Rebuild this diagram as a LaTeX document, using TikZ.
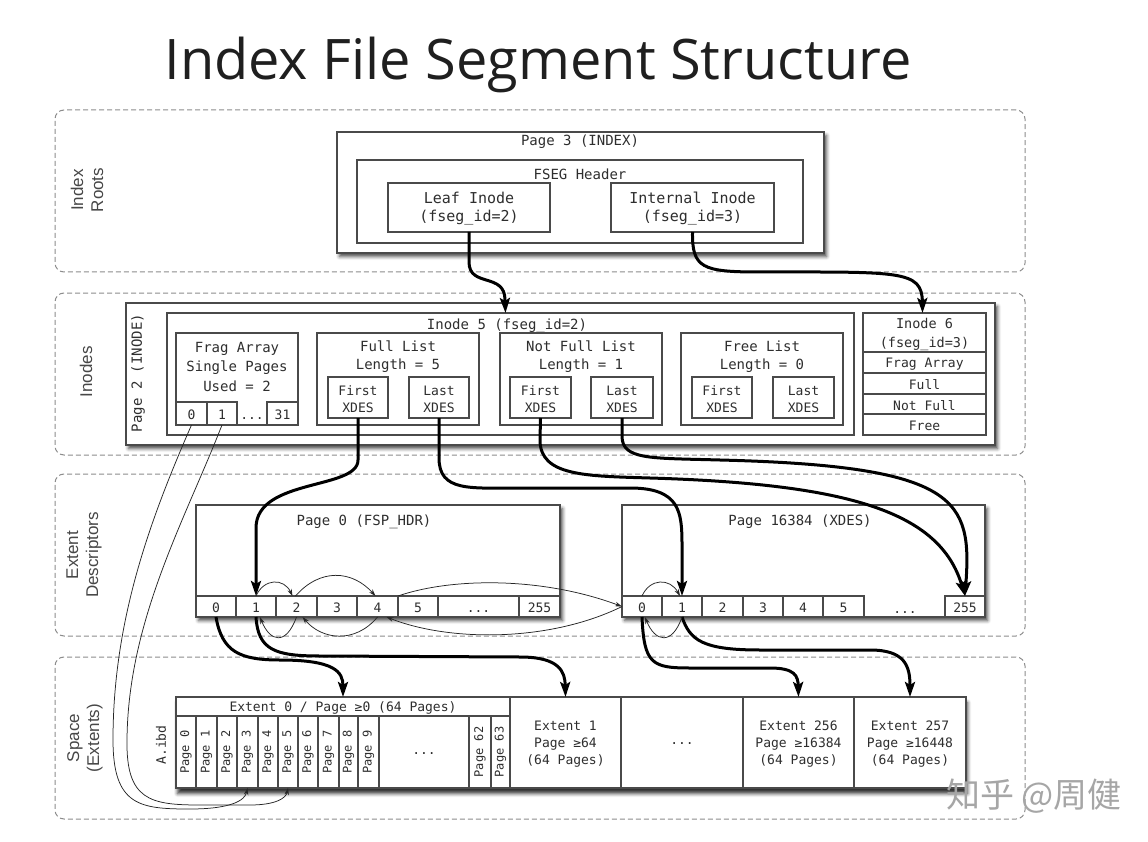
\documentclass[tikz,border=0pt]{standalone}
\usepackage{fontspec}
\newfontfamily\mono{DejaVu Sans Mono}
\newfontfamily\sidefont{Liberation Sans}
\newfontfamily\titlefont{Open Sans}
\newfontfamily\cjk{Noto Sans CJK SC}
\usetikzlibrary{arrows.meta,fit,shadows.blur}
\definecolor{boxc}{HTML}{4A4A4A}
\definecolor{txtc}{HTML}{2E2E2E}
\definecolor{bandc}{HTML}{8C8C8C}
\newcommand\fs[2]{\fontsize{#1}{#2}\selectfont}
% box with centred text: style, name, x1, y1, x2, y2, text style, text
\newcommand\bx[8]{\node[#1,fit={(#3,#4) (#5,#6)}] (#2) {};\node[txt,#7] (#2t) at (#2) {#8};}
\begin{document}
\begin{tikzpicture}[x=1pt,y=-1pt,
 box/.style={draw=boxc,line width=1.1pt,fill=white,inner sep=0pt,outer sep=0pt},
 sbox/.style={box,blur shadow={shadow xshift=2.5pt,shadow yshift=-3.5pt,shadow blur radius=3.5pt,shadow opacity=72}},
 band/.style={draw=bandc,line width=1pt,dash pattern=on 5pt off 3pt,rounded corners=9pt,inner sep=0pt},
 txt/.style={inner sep=0pt,text=txtc,align=center,font=\mono\fs{13}{17},yshift=-1.5pt},
 lbl/.style={txt,font=\mono\fs{14}{19}},
 side/.style={inner sep=0pt,rotate=90,align=center,text=black!72,font=\sidefont\fs{17}{20}},
 rot/.style={inner sep=0pt,rotate=90,text=txtc,font=\mono\fs{12}{14}},
 big/.style={line width=3pt,-{Stealth[length=15pt,width=10pt,inset=3pt]}},
 thin/.style={line width=0.75pt,black!85,-{Stealth[length=7pt,width=4.5pt]}},
]
\useasboundingbox (0,0) rectangle (1148,842);

% title
\node[anchor=base,inner sep=0pt,text=black!88] (title) at (538,80) {\resizebox{747pt}{!}{\titlefont\fs{40}{48}Index File Segment Structure}};

% bands
\node[band,fit={(55,110) (1025,272)}] (band1) {};
\node[band,fit={(55,293) (1025,455)}] (band2) {};
\node[band,fit={(55,474) (1025,636)}] (band3) {};
\node[band,fit={(55,657) (1025,819)}] (band4) {};
\node[side] (s1) at (87,190) {Index\\Roots};
\node[side] (s2) at (86,372) {Inodes};
\node[side] (s3) at (84,555) {Extent\\Descriptors};
\node[side] (s4) at (85,738) {Space\\(Extents)};

% ---- Index roots
\node[sbox,fit={(337,132) (824,253)}] (p3) {};
\node[lbl] (p3t) at (580,140) {Page 3 (INDEX)};
\node[box,fit={(357,160) (803,243)}] (fseg) {};
\node[lbl] (fsegt) at (580,173) {FSEG Header};
\bx{box}{leaf}{388}{183}{550}{232}{font=\mono\fs{15}{18}}{Leaf Inode\\(fseg\_id=2)}
\bx{box}{internal}{611}{183}{774}{232}{font=\mono\fs{15}{18}}{Internal Inode\\(fseg\_id=3)}

% ---- Inodes
\node[sbox,fit={(126,303) (995,445)}] (p2) {};
\node[rot,font=\mono\fs{14}{16}] (p2t) at (138,373) {Page 2 (INODE)};
\node[box,fit={(167,313) (854,435)}] (ino5) {};
\node[lbl] (ino5t) at (507,324) {Inode 5 (fseg\_id=2)};
\node[box,fit={(176,333) (298,425)}] (frag) {};
\node[lbl,font=\mono\fs{14}{19.5}] (fragt) at (237,365) {Frag Array\\Single Pages\\Used = 2};
\bx{box}{fc0}{176}{402}{207}{425}{}{0}
\bx{box}{fc1}{207}{402}{237}{425}{}{1}
\bx{box}{fc31}{267}{402}{298}{425}{}{31}
\node[txt] (fcd) at (252,413) {\vphantom{0}...};

\node[box,fit={(317,333) (479,425)}] (full) {};
\node[lbl,font=\mono\fs{14}{18}] (fullt) at (398,355) {Full List\\Length = 5};
\bx{box}{fF}{328}{377}{388}{418}{}{First\\XDES}
\bx{box}{fL}{409}{377}{469}{418}{}{Last\\XDES}

\node[box,fit={(500,333) (662,425)}] (nfull) {};
\node[lbl,font=\mono\fs{14}{18}] (nfullt) at (581,355) {Not Full List\\Length = 1};
\bx{box}{nF}{510}{377}{571}{418}{}{First\\XDES}
\bx{box}{nL}{591}{377}{653}{418}{}{Last\\XDES}

\node[box,fit={(681,333) (843,425)}] (free) {};
\node[lbl,font=\mono\fs{14}{18}] (freet) at (762,355) {Free List\\Length = 0};
\bx{box}{frF}{692}{377}{752}{418}{}{First\\XDES}
\bx{box}{frL}{773}{377}{834}{418}{}{Last\\XDES}

\bx{box}{i6h}{863}{313}{986}{352}{font=\mono\fs{13.5}{19}}{Inode 6\\(fseg\_id=3)}
\bx{box}{i6a}{863}{352}{986}{373}{}{Frag Array}
\bx{box}{i6b}{863}{373}{986}{394}{}{Full}
\bx{box}{i6c}{863}{394}{986}{414}{}{Not Full}
\bx{box}{i6d}{863}{414}{986}{435}{}{Free}

% ---- Extent descriptors
\node[sbox,fit={(196,505) (560,617)}] (p0) {};
\node[lbl] (p0t) at (364,520) {Page 0 (FSP\_HDR)};
\bx{box}{a0}{196}{596}{236}{617}{}{0}
\bx{box}{a1}{236}{596}{276}{617}{}{1}
\bx{box}{a2}{276}{596}{317}{617}{}{2}
\bx{box}{a3}{317}{596}{357}{617}{}{3}
\bx{box}{a4}{357}{596}{398}{617}{}{4}
\bx{box}{a5}{398}{596}{438}{617}{}{5}
\bx{box}{ad}{438}{596}{519}{617}{}{\vphantom{0}...}
\bx{box}{a255}{519}{596}{560}{617}{}{255}

\node[sbox,fit={(622,505) (985,617)}] (px) {};
\node[lbl] (pxt) at (800,520) {Page 16384 (XDES)};
\bx{box}{b0}{622}{596}{662}{617}{}{0}
\bx{box}{b1}{662}{596}{702}{617}{}{1}
\bx{box}{b2}{702}{596}{743}{617}{}{2}
\bx{box}{b3}{743}{596}{783}{617}{}{3}
\bx{box}{b4}{783}{596}{823}{617}{}{4}
\bx{box}{b5}{823}{596}{864}{617}{}{5}
\node[txt] (bd) at (905,607) {\vphantom{0}...};
\bx{box}{b255}{945}{596}{985}{617}{}{255}

% ---- Space (extents)
\node[box,fit={(176,697) (966,788)},blur shadow={shadow xshift=1.5pt,shadow yshift=-5.5pt,shadow blur radius=3.5pt,shadow opacity=80}] (extrow) {};
\node[rot,font=\mono\fs{13}{15}] (aibd) at (161,745) {A.ibd};
\bx{box}{eh}{176}{697}{510}{716}{}{Extent 0 / Page ≥0 (64 Pages)}
\foreach \i/\l/\r in {0/176/196,1/196/217,2/217/237,3/237/258,4/258/278,5/278/298,6/298/318,7/318/339,8/339/358,9/358/379,62/469/491,63/491/510}{
  \node[box,fit={(\l,716) (\r,788)}] (pc\i) {};
  \node[rot] (pt\i) at (pc\i) {Page \i};
}
\bx{box}{pcd}{379}{716}{469}{788}{}{...}
\bx{box}{ext1}{510}{697}{621}{788}{}{Extent 1\\Page ≥64\\(64 Pages)}
\bx{box}{extd}{621}{697}{743}{788}{}{...}
\bx{box}{ext256}{743}{697}{854}{788}{}{Extent 256\\Page ≥16384\\(64 Pages)}
\bx{box}{ext257}{854}{697}{966}{788}{}{Extent 257\\Page ≥16448\\(64 Pages)}

% watermark
\node[inner sep=0pt,anchor=east,text=black!35,font=\cjk\fs{34}{34}] (wm) at (1122,796) {知乎 @周健};

% ---- thick arrows
\draw[big] (leaf.south) -- (469,262) .. controls (469,288) and (505,272) .. (505,300) -- ([xshift=-5pt]ino5.north);
\draw[big] (internal.south) .. controls (692,268) and (702,272) .. (760,272) .. controls (900,272) and (922,270) .. ([xshift=-2pt]i6h.north);
\draw[big] (fF.south) -- (358,460) .. controls (358,490) and (256,478) .. (256,528) -- (a1.north);
\draw[big] (fL.south) -- (439,458) .. controls (439,492) and (470,488) .. (520,488) -- (630,488) .. controls (680,488) and (682,512) .. (682,545) -- (b1.north);
\draw[big] (nF.south) -- (540,440) .. controls (540,476) and (585,476) .. (650,478) .. controls (850,484) and (940,512) .. (b255.north);
\draw[big] (nL.south) -- (622,436) .. controls (622,460) and (650,458) .. (720,460) .. controls (960,466) and (972,500) .. (b255.north);
\draw[big] (a0.south) .. controls (222,652) and (240,660) .. (280,660) .. controls (335,660) and (343,672) .. (eh.north);
\draw[big] (a1.south) .. controls (258,650) and (275,656) .. (320,656) -- (520,657) .. controls (560,657) and (565,672) .. (ext1.north);
\draw[big] (b0.south) .. controls (644,664) and (652,668) .. (690,668) -- (770,668) .. controls (795,668) and (798,676) .. (ext256.north);
\draw[big] (b1.south) .. controls (690,640) and (702,650) .. (760,650) -- (870,650) .. controls (905,650) and (910,666) .. (ext257.north);

% ---- thin list arrows
\draw[thin] (a1.north) .. controls (264,578) and (284,578) .. ([xshift=-4pt]a2.north);
\draw[thin] ([xshift=-1pt]a2.north) .. controls (320,568) and (352,570) .. ([xshift=-2pt]a4.north);
\draw[thin] (a4.north east) .. controls (450,578) and (540,576) .. (b0.west);
\draw[thin] (b0.north) .. controls (650,578) and (670,578) .. ([xshift=-2pt]b1.north);
\draw[thin] (b0.west) .. controls (550,642) and (450,642) .. ([xshift=9pt]a4.south);
\draw[thin] (a4.south) .. controls (355,644) and (322,640) .. ([xshift=6pt]a2.south);
\draw[thin] (a2.south) .. controls (286,646) and (270,642) .. ([xshift=4pt]a1.south);
\draw[thin] (b1.south) .. controls (672,646) and (655,642) .. ([xshift=3pt]b0.south);

% ---- frag array arrows
\draw[thin] (fc0.south) .. controls (150,520) and (113,620) .. (113,740) .. controls (113,806) and (140,809) .. (190,809) .. controls (232,809) and (245,800) .. (pc3.south);
\draw[thin] (fc1.south) .. controls (185,520) and (128,620) .. (127,740) .. controls (126,800) and (150,805) .. (200,805) -- (250,805) .. controls (276,805) and (286,798) .. (pc5.south);
\end{tikzpicture}
\end{document}
